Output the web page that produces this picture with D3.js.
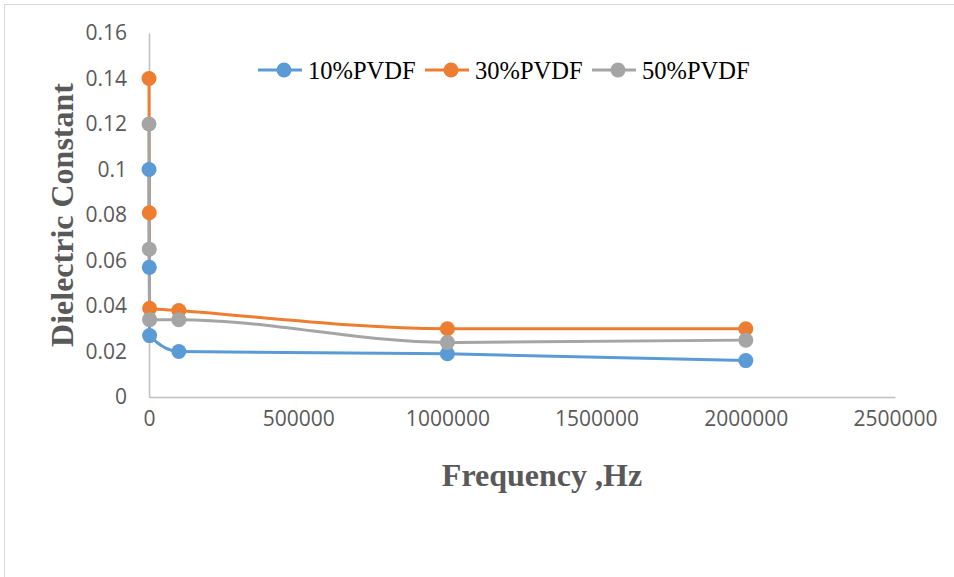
<!DOCTYPE html>
<html>
<head>
<meta charset="utf-8">
<script src="https://cdn.jsdelivr.net/npm/d3@7"></script>
<style>
  body { margin: 0; background: #fff; }
  svg { display: block; }
</style>
</head>
<body>
<svg id="chart" width="954" height="577"></svg>
<script>
// frequencies in Hz
var freqs = [100, 1000, 2000, 100000, 1000000, 2000000];
var pvdf10 = [0.1, 0.057, 0.027, 0.020, 0.019, 0.016];
var pvdf30 = [0.14, 0.081, 0.039, 0.038, 0.030, 0.030];
var pvdf50 = [0.12, 0.065, 0.034, 0.034, 0.024, 0.025];
var seriesNames = ["10%PVDF", "30%PVDF", "50%PVDF"];
var colors = ["#5b9bd5", "#ed7d31", "#a5a5a5"];
var xTicks = [0, 500000, 1000000, 1500000, 2000000, 2500000];
var yTicks = [0, 0.02, 0.04, 0.06, 0.08, 0.1, 0.12, 0.14, 0.16];

var svg = d3.select("#chart");

// outer frame like the excel chart area
svg.append("rect")
    .attr("x", 4.5).attr("y", 4.5)
    .attr("width", 960).attr("height", 600)
    .attr("fill", "none")
    .attr("stroke", "#d9d9d9");

var x = d3.scaleLinear().domain([0, 2500000]).range([149, 895]);
var y = d3.scaleLinear().domain([0, 0.16]).range([397, 33]);

var xAxis = svg.append("g")
    .attr("transform", "translate(0,397)")
    .call(d3.axisBottom(x).tickValues(xTicks).tickSize(0).tickPadding(14).tickFormat(d3.format("d")));
var yAxis = svg.append("g")
    .attr("transform", "translate(149,0)")
    .call(d3.axisLeft(y).tickValues(yTicks).tickSize(0).tickPadding(22).tickFormat(function(d) { return String(+d.toFixed(2)); }));

[xAxis, yAxis].forEach(function(a) {
    a.select(".domain").attr("stroke", "#bfbfbf").attr("stroke-width", 1.5);
    a.selectAll("text")
	.attr("fill", "#595959")
	.style("font-family", "'Open Sans', sans-serif")
	.style("font-size", "21px");
});

var allSeries = [pvdf10, pvdf30, pvdf50];

var line = d3.line()
    .x(function(d, i) { return x(freqs[i]); })
    .y(function(d) { return y(d); })
    .curve(d3.curveMonotoneX);

allSeries.forEach(function(vals, s) {
    svg.append("path")
	.datum(vals)
	.attr("d", line)
	.attr("fill", "none")
	.attr("stroke", colors[s])
	.attr("stroke-width", 3);
});

allSeries.forEach(function(vals, s) {
    svg.selectAll(".pt" + s)
	.data(vals)
	.enter().append("circle")
	.attr("cx", function(d, i) { return x(freqs[i]); })
	.attr("cy", function(d) { return y(d); })
	.attr("r", 7.5)
	.attr("fill", colors[s]);
});

// legend
var legendX = [258, 425, 592];
seriesNames.forEach(function(name, s) {
    var g = svg.append("g").attr("transform", "translate(" + legendX[s] + ",70)");
    g.append("line").attr("x1", 0).attr("x2", 44).attr("y1", 0).attr("y2", 0)
	.attr("stroke", colors[s]).attr("stroke-width", 3);
    g.append("circle").attr("cx", 26).attr("cy", 0).attr("r", 7.5).attr("fill", colors[s]);
    g.append("text").attr("x", 50).attr("y", 8.5)
	.style("font-family", "'Liberation Serif', 'Times New Roman', serif")
	.style("font-size", "24.5px")
	.attr("fill", "#000")
	.text(name);
});

// axis titles
svg.append("text")
    .attr("transform", "translate(73,215) rotate(-90)")
    .attr("text-anchor", "middle")
    .style("font-family", "'Liberation Serif', 'Times New Roman', serif")
    .style("font-weight", "bold")
    .style("font-size", "32px")
    .attr("fill", "#595959")
    .text("Dielectric Constant");

svg.append("text")
    .attr("x", 542).attr("y", 486)
    .attr("text-anchor", "middle")
    .style("font-family", "'Liberation Serif', 'Times New Roman', serif")
    .style("font-weight", "bold")
    .style("font-size", "32px")
    .attr("fill", "#595959")
    .text("Frequency ,Hz");
</script>
</body>
</html>
